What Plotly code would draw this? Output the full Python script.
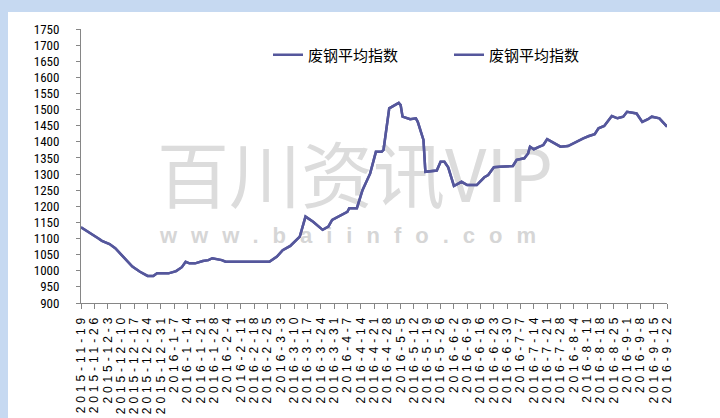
import plotly.graph_objects as go
import pandas as pd

# ---------------- data ----------------
series_name = "废钢平均指数"

dates = [
    "2015-11-19", "2015-11-23", "2015-11-28", "2015-11-30", "2015-12-04", "2015-12-07",
    "2015-12-11", "2015-12-16", "2015-12-20", "2015-12-24", "2015-12-27", "2015-12-29",
    "2016-01-04", "2016-01-08", "2016-01-11", "2016-01-13", "2016-01-15", "2016-01-18",
    "2016-01-22", "2016-01-25", "2016-01-27", "2016-02-01", "2016-02-03", "2016-02-26",
    "2016-03-01", "2016-03-04", "2016-03-08", "2016-03-13", "2016-03-16", "2016-03-20",
    "2016-03-25", "2016-03-28", "2016-03-30", "2016-04-07", "2016-04-08", "2016-04-12",
    "2016-04-15", "2016-04-19", "2016-04-22", "2016-04-25", "2016-04-26", "2016-04-29",
    "2016-05-04", "2016-05-05", "2016-05-06", "2016-05-10", "2016-05-13", "2016-05-14",
    "2016-05-17", "2016-05-18", "2016-05-24", "2016-05-26", "2016-05-28", "2016-05-30",
    "2016-06-02", "2016-06-06", "2016-06-09", "2016-06-14", "2016-06-18", "2016-06-20",
    "2016-06-23", "2016-06-26", "2016-07-03", "2016-07-05", "2016-07-09", "2016-07-11",
    "2016-07-12", "2016-07-14", "2016-07-17", "2016-07-19", "2016-07-21", "2016-07-25",
    "2016-07-28", "2016-08-01", "2016-08-05", "2016-08-09", "2016-08-12", "2016-08-15",
    "2016-08-17", "2016-08-20", "2016-08-24", "2016-08-27", "2016-08-30", "2016-09-01",
    "2016-09-06", "2016-09-09", "2016-09-12", "2016-09-14", "2016-09-18", "2016-09-22",
]

index_values = [
    1135, 1121, 1101, 1093, 1083, 1070,
    1044, 1013, 997, 984, 984, 992,
    992, 999, 1011, 1028, 1023, 1023,
    1030, 1033, 1039, 1033, 1028, 1028,
    1044, 1064, 1077, 1106, 1168, 1152,
    1127, 1137, 1158, 1183, 1194, 1194,
    1251, 1302, 1369, 1369, 1375, 1504,
    1521, 1514, 1478, 1470, 1473, 1462,
    1406, 1307, 1311, 1338, 1338, 1321,
    1263, 1276, 1266, 1266, 1290, 1297,
    1321, 1323, 1325, 1344, 1349, 1364,
    1385, 1377, 1385, 1390, 1408, 1395,
    1385, 1387, 1400, 1411, 1418, 1424,
    1442, 1449, 1480, 1473, 1478, 1493,
    1488, 1462, 1470, 1478, 1473, 1447,
]

tick_labels = [
    "2015-11-19", "2015-11-26", "2015-12-3", "2015-12-10", "2015-12-17", "2015-12-24",
    "2015-12-31", "2016-1-7", "2016-1-14", "2016-1-21", "2016-1-28", "2016-2-4",
    "2016-2-11", "2016-2-18", "2016-2-25", "2016-3-3", "2016-3-10", "2016-3-17",
    "2016-3-24", "2016-3-31", "2016-4-7", "2016-4-14", "2016-4-21", "2016-4-28",
    "2016-5-5", "2016-5-12", "2016-5-19", "2016-5-26", "2016-6-2", "2016-6-9",
    "2016-6-16", "2016-6-23", "2016-6-30", "2016-7-7", "2016-7-14", "2016-7-21",
    "2016-7-28", "2016-8-4", "2016-8-11", "2016-8-18", "2016-8-25", "2016-9-1",
    "2016-9-8", "2016-9-15", "2016-9-22",
]

y_ticks = list(range(900, 1751, 50))

# ---------------- figure ----------------
tick_vals = [d.strftime("%Y-%m-%d") for d in pd.to_datetime(tick_labels)]
tick_text = ['<span style="letter-spacing:3.9px">%s</span>' % t for t in tick_labels]

LINE_COLOR = "#55579c"
W, H = 720, 418
ML, MR, MT, MB = 81, 53, 29, 115
PW, PH = W - ML - MR, H - MT - MB


def px_x(p):
    return (p - ML) / PW


def px_y(p):
    return (H - MB - p) / PH


fig = go.Figure()
for _ in range(2):
    fig.add_trace(go.Scatter(
        x=dates, y=index_values, name=series_name, mode="lines",
        line=dict(color=LINE_COLOR, width=2.5),
        hoverinfo="x+y",
    ))

shapes = [
    dict(type="rect", xref="paper", yref="paper",
         x0=px_x(8), x1=px_x(W + 5), y0=px_y(12), y1=px_y(H + 5),
         fillcolor="white", line=dict(width=0), layer="below"),
    dict(type="rect", xref="paper", yref="paper",
         x0=px_x(150), x1=px_x(560), y0=px_y(215), y1=px_y(150),
         fillcolor="rgba(0,0,0,0)", line=dict(width=0), layer="below",
         label=dict(text="百川资讯VIP", textposition="middle center",
                    font=dict(size=72, color="#dcdcdc",
                              family="Noto Sans CJK SC, sans-serif"))),
    dict(type="rect", xref="paper", yref="paper",
         x0=px_x(150), x1=px_x(560), y0=px_y(245), y1=px_y(222),
         fillcolor="rgba(0,0,0,0)", line=dict(width=0), layer="below",
         label=dict(text='<b><span style="letter-spacing:14px">www.baiinfo.com</span></b>',
                    textposition="middle center",
                    font=dict(size=22, color="#d6d6d6",
                              family="Liberation Sans, Arial, sans-serif"))),
]

fig.update_layout(
    width=W, height=H,
    margin=dict(l=ML, r=MR, t=MT, b=MB, autoexpand=False),
    paper_bgcolor="#c6d9f1",
    plot_bgcolor="rgba(0,0,0,0)",
    shapes=shapes,
    showlegend=True,
    legend=dict(
        orientation="h", x=px_x(268), xanchor="left", y=px_y(55), yanchor="middle",
        bgcolor="rgba(0,0,0,0)", borderwidth=0,
        font=dict(size=15, color="#000000", family="Noto Sans CJK SC, sans-serif"),
        entrywidth=136, entrywidthmode="pixels",
        traceorder="normal",
    ),
    xaxis=dict(
        type="date",
        range=[dates[0], dates[-1]],
        tickmode="array", tickvals=tick_vals, ticktext=tick_text,
        tickangle=-90,
        ticks="outside", ticklen=5, tickcolor="#868686",
        showline=True, linecolor="#868686", linewidth=1,
        showgrid=False, zeroline=False,
        tickfont=dict(size=12, color="#000000", family="Liberation Sans, Arial, sans-serif"),
        automargin=False,
    ),
    yaxis=dict(
        range=[900, 1750],
        tickmode="array", tickvals=y_ticks, ticktext=[str(v) for v in y_ticks],
        ticks="outside", ticklen=4, tickcolor="#868686",
        showline=True, linecolor="#868686", linewidth=1,
        showgrid=False, zeroline=False,
        ticklabelstandoff=14,
        tickfont=dict(size=13, color="#000000",
                      family="Roboto Condensed, Liberation Sans, sans-serif"),
        automargin=False,
    ),
)

fig.write_html("out.html", config={"displayModeBar": False},
               post_script="document.body.style.margin='0';")
